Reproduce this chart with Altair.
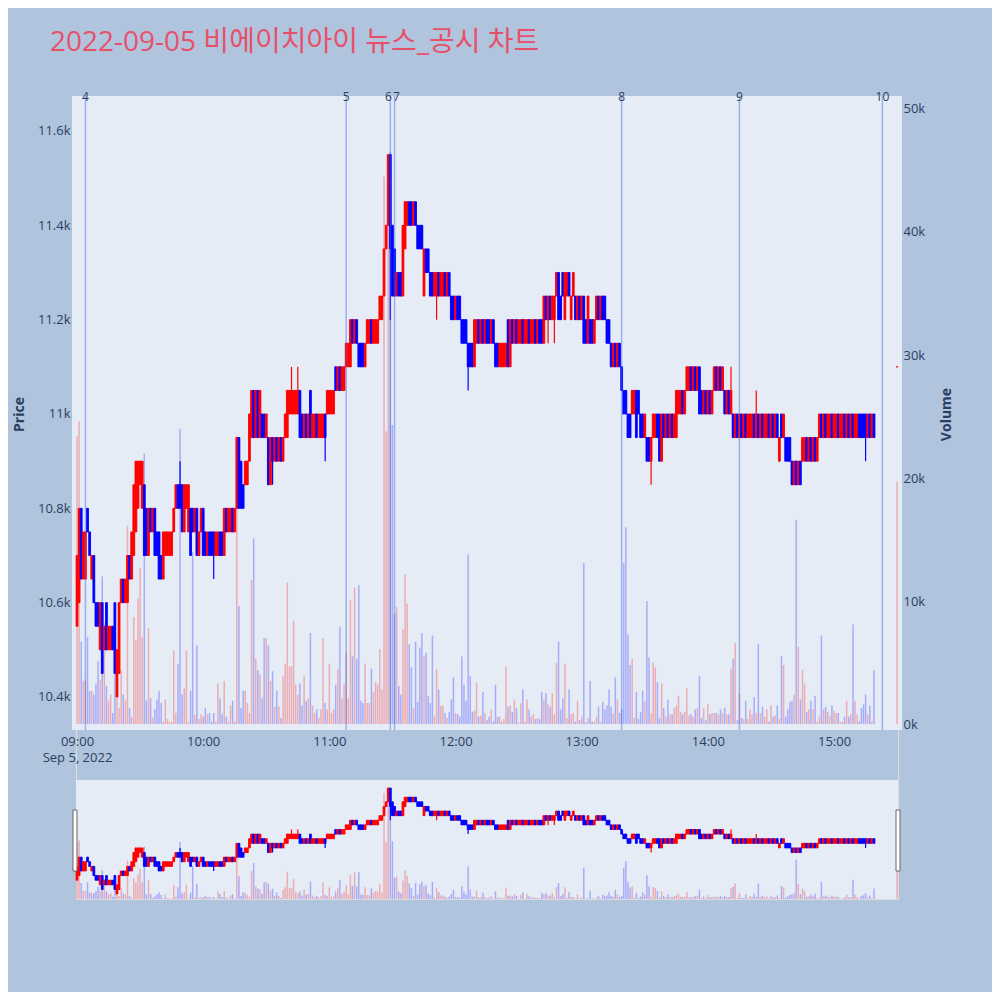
""" Minute candlestick chart of 비에이치아이 on 2022-09-05, with volume and news markers """

import numpy as np
import pandas as pd
import altair as alt

FONT = "Open Sans, Noto Sans CJK KR, sans-serif"
TEXT_COLOR = "#2a3f5f"
PLOT_BG = "#E5ECF6"

title_text = "2022-09-05 비에이치아이 뉴스_공시 차트"

# one candle per minute from 09:00 to 15:19
opens = [
    10550, 10600, 10800, 10650, 10650, 10800, 10750, 10650, 10700, 10600,
    10600, 10500, 10600, 10500, 10600, 10500, 10500, 10550, 10600, 10400,
    10450, 10600, 10650, 10600, 10600, 10700, 10650, 10700, 10750, 10800,
    10850, 10800, 10850, 10800, 10700, 10800, 10750, 10800, 10750, 10750,
    10700, 10650, 10700, 10700, 10700, 10700, 10750, 10800, 10850, 10850,
    10850, 10750, 10800, 10750, 10800, 10800, 10750, 10800, 10700, 10750,
    10800, 10750, 10700, 10750, 10750, 10750, 10700, 10700, 10750, 10750,
    10700, 10800, 10750, 10750, 10800, 10750, 10800, 10950, 10900, 10850,
    10850, 10850, 10900, 10950, 11050, 10950, 11050, 10950, 11000, 11000,
    10950, 10950, 10850, 10950, 10900, 10950, 10900, 10950, 10900, 10950,
    10950, 11000, 11000, 11000, 11000, 11000, 11050, 11000, 10950, 11000,
    10950, 11050, 10950, 10950, 11000, 10950, 10950, 10950, 11000, 11000,
    11000, 11000, 11000, 11100, 11050, 11100, 11050, 11050, 11100, 11100,
    11100, 11200, 11150, 11200, 11150, 11150, 11150, 11100, 11150, 11150,
    11200, 11150, 11150, 11150, 11200, 11200, 11250, 11350, 11400, 11550,
    11400, 11350, 11250, 11300, 11300, 11250, 11350, 11400, 11450, 11450,
    11400, 11450, 11400, 11400, 11400, 11250, 11350, 11350, 11300, 11300,
    11250, 11250, 11300, 11250, 11250, 11300, 11250, 11300, 11250, 11250,
    11200, 11250, 11250, 11200, 11200, 11200, 11150, 11150, 11150, 11100,
    11150, 11200, 11150, 11200, 11150, 11200, 11200, 11150, 11200, 11150,
    11150, 11100, 11100, 11100, 11100, 11200, 11100, 11200, 11150, 11200,
    11150, 11150, 11200, 11150, 11150, 11200, 11150, 11150, 11200, 11150,
    11200, 11200, 11150, 11250, 11200, 11250, 11200, 11200, 11250, 11300,
    11250, 11300, 11200, 11250, 11300, 11200, 11250, 11250, 11200, 11250,
    11200, 11250, 11200, 11150, 11200, 11200, 11150, 11200, 11250, 11200,
    11250, 11250, 11200, 11200, 11150, 11100, 11150, 11100, 11150, 11100,
    11050, 11050, 11000, 11000, 11000, 11000, 11050, 11050, 11000, 11000,
    10950, 10950, 10950, 10900, 10950, 10950, 11000, 11000, 10900, 11000,
    10950, 11000, 10950, 11000, 10950, 10950, 11000, 11000, 11050, 11000,
    11050, 11050, 11100, 11050, 11100, 11050, 11100, 11050, 11000, 11050,
    11000, 11050, 11000, 11050, 11100, 11050, 11100, 11050, 11050, 11000,
    11050, 11000, 11000, 10950, 11000, 10950, 11000, 10950, 11000, 10950,
    10950, 10950, 11000, 10950, 11000, 10950, 11000, 10950, 10950, 11000,
    10950, 11000, 10950, 11000, 10900, 11000, 10950, 10950, 10950, 10950,
    10900, 10850, 10900, 10850, 10900, 10900, 10900, 10950, 10900, 10950,
    10900, 10950, 10900, 10950, 11000, 10950, 11000, 10950, 10950, 11000,
    10950, 10950, 11000, 10950, 10950, 11000, 10950, 11000, 10950, 11000,
    10950, 10950, 11000, 11000, 11000, 11000, 10950, 11000, 10950, 11000,
]
closes = [
    10700, 10800, 10650, 10750, 10750, 10750, 10700, 10700, 10600, 10550,
    10550, 10600, 10450, 10550, 10500, 10550, 10550, 10500, 10450, 10500,
    10600, 10650, 10600, 10650, 10700, 10650, 10750, 10850, 10900, 10900,
    10900, 10900, 10700, 10700, 10800, 10750, 10800, 10700, 10700, 10650,
    10650, 10750, 10750, 10750, 10750, 10750, 10800, 10850, 10800, 10800,
    10750, 10850, 10850, 10850, 10700, 10750, 10800, 10700, 10750, 10800,
    10700, 10700, 10750, 10700, 10700, 10700, 10750, 10750, 10700, 10700,
    10800, 10750, 10800, 10800, 10750, 10800, 10950, 10800, 10800, 10800,
    10900, 10900, 11000, 11050, 10950, 11050, 10950, 11050, 10950, 10950,
    11000, 10850, 10950, 10900, 10950, 10900, 10950, 10900, 10950, 11000,
    11050, 11050, 11050, 11050, 11050, 11050, 10950, 10950, 11000, 10950,
    11000, 10950, 11000, 11000, 10950, 11000, 11000, 11000, 10950, 11050,
    11050, 11050, 11050, 11050, 11100, 11050, 11100, 11100, 11150, 11150,
    11200, 11150, 11200, 11150, 11100, 11100, 11100, 11150, 11200, 11200,
    11150, 11200, 11200, 11200, 11250, 11250, 11350, 11400, 11550, 11350,
    11250, 11250, 11300, 11250, 11250, 11400, 11450, 11450, 11400, 11400,
    11450, 11400, 11350, 11350, 11350, 11350, 11300, 11300, 11250, 11250,
    11300, 11300, 11250, 11300, 11300, 11250, 11300, 11250, 11200, 11200,
    11250, 11200, 11200, 11150, 11150, 11150, 11100, 11100, 11100, 11200,
    11200, 11150, 11200, 11150, 11200, 11150, 11150, 11200, 11150, 11100,
    11100, 11150, 11150, 11150, 11150, 11100, 11200, 11150, 11200, 11150,
    11200, 11200, 11150, 11200, 11200, 11150, 11200, 11200, 11150, 11200,
    11150, 11150, 11250, 11200, 11250, 11200, 11250, 11250, 11300, 11200,
    11200, 11250, 11300, 11300, 11250, 11250, 11300, 11200, 11250, 11200,
    11250, 11150, 11150, 11250, 11150, 11150, 11200, 11250, 11200, 11250,
    11200, 11200, 11150, 11150, 11100, 11150, 11100, 11150, 11100, 11050,
    11000, 11000, 10950, 10950, 11050, 11050, 10950, 11000, 10950, 10950,
    11000, 10900, 10900, 10950, 11000, 11000, 10950, 10900, 11000, 10950,
    11000, 10950, 11000, 10950, 11000, 11050, 11050, 11050, 11000, 11050,
    11100, 11100, 11050, 11100, 11050, 11100, 11000, 11000, 11050, 11000,
    11050, 11000, 11050, 11100, 11050, 11100, 11050, 11100, 11000, 11050,
    11000, 11050, 10950, 11000, 10950, 11000, 10950, 11000, 10950, 11000,
    11000, 11000, 10950, 11000, 10950, 11000, 10950, 11000, 11000, 10950,
    11000, 10950, 11000, 10950, 10950, 10950, 11000, 10900, 10900, 10900,
    10850, 10900, 10850, 10900, 10850, 10950, 10950, 10900, 10950, 10900,
    10950, 10900, 10950, 11000, 10950, 11000, 10950, 11000, 11000, 10950,
    11000, 11000, 10950, 11000, 11000, 10950, 11000, 10950, 11000, 10950,
    11000, 11000, 10950, 10950, 10950, 10950, 11000, 10950, 11000, 10950,
]
# traded volume per minute, thousands of shares
volume_k = [
    23.4, 24.6, 6.7, 3.5, 3.6, 7.1, 2.7, 2.7, 2.4, 3.3,
    5.1, 3.6, 12.0, 8.2, 3.1, 1.9, 2.4, 0.9, 5.1, 3.1,
    1.3, 4.4, 2.4, 1.9, 16.1, 1.3, 0.6, 8.7, 6.8, 10.2,
    12.7, 7.1, 22.0, 1.9, 7.8, 2.1, 0.5, 1.2, 2.0, 2.7,
    1.7, 0.2, 2.0, 0.4, 0.2, 0.2, 6.0, 0.9, 4.9, 24.0,
    2.4, 2.9, 6.0, 0.2, 2.7, 14.0, 0.8, 6.4, 0.4, 0.8,
    0.6, 1.3, 0.8, 0.9, 0.2, 0.9, 0.2, 3.3, 2.1, 0.8,
    3.5, 0.6, 0.2, 1.5, 1.9, 0.2, 23.4, 9.6, 1.3, 2.7,
    2.7, 1.7, 0.9, 11.7, 15.1, 5.3, 4.4, 4.0, 2.1, 7.0,
    7.0, 6.4, 3.5, 4.3, 1.4, 2.7, 1.4, 0.5, 3.9, 4.9,
    11.5, 4.7, 4.7, 8.4, 3.2, 2.4, 3.3, 1.5, 3.9, 1.9,
    2.1, 7.4, 1.5, 0.9, 1.2, 0.5, 1.2, 7.0, 1.7, 1.2,
    4.9, 0.9, 1.2, 3.2, 4.5, 7.9, 2.1, 3.2, 5.8, 2.1,
    10.1, 5.5, 11.1, 5.3, 11.3, 1.9, 1.7, 4.9, 1.7, 1.7,
    4.5, 2.6, 3.4, 3.2, 6.1, 2.8, 44.5, 23.8, 46.0, 46.5,
    24.3, 9.0, 9.5, 3.1, 2.4, 7.7, 12.2, 9.8, 6.5, 4.6,
    1.3, 6.7, 1.8, 6.2, 7.4, 5.5, 5.8, 2.3, 1.7, 7.2,
    0.7, 4.5, 2.8, 1.5, 1.5, 0.9, 0.5, 1.0, 2.0, 3.8,
    0.9, 0.8, 0.6, 5.5, 3.2, 1.9, 13.8, 3.9, 1.0, 1.1,
    3.4, 0.6, 0.7, 2.6, 0.9, 0.3, 0.6, 1.2, 0.2, 3.2,
    0.6, 0.6, 0.2, 0.4, 4.7, 1.4, 1.5, 1.0, 2.0, 1.3,
    0.1, 1.7, 2.8, 0.2, 2.0, 1.2, 0.6, 0.8, 0.4, 0.5,
    0.4, 2.6, 2.0, 2.5, 1.6, 1.4, 2.5, 0.8, 5.0, 6.7,
    1.2, 2.1, 4.9, 0.5, 2.8, 0.8, 0.9, 0.2, 1.9, 0.3,
    0.6, 13.1, 0.1, 0.5, 3.5, 0.2, 0.2, 0.6, 1.4, 0.2,
    1.8, 1.2, 1.5, 2.8, 1.4, 0.9, 3.8, 2.0, 0.9, 1.2,
    13.1, 16.0, 7.3, 4.8, 5.3, 0.5, 2.6, 0.4, 1.0, 2.7,
    1.9, 10.0, 5.4, 0.9, 5.0, 4.6, 3.4, 0.5, 3.3, 1.3,
    0.6, 2.0, 0.8, 0.8, 1.3, 1.5, 2.3, 1.0, 0.8, 1.0,
    2.9, 0.7, 0.8, 0.6, 1.2, 1.3, 3.9, 0.5, 1.3, 0.3,
    1.6, 0.8, 0.9, 0.9, 0.9, 0.8, 1.2, 0.9, 1.3, 0.8,
    0.8, 4.5, 5.3, 6.6, 0.3, 2.5, 0.5, 0.4, 1.9, 0.4,
    1.2, 0.8, 2.2, 0.9, 6.5, 0.9, 1.4, 0.6, 1.2, 0.2,
    1.5, 0.6, 0.7, 1.5, 0.4, 5.5, 4.8, 0.6, 1.2, 1.8,
    1.9, 2.4, 16.6, 6.3, 2.0, 4.4, 3.3, 1.0, 1.2, 1.9,
    1.2, 2.3, 0.2, 0.6, 7.2, 1.2, 1.4, 1.0, 0.7, 1.5,
    1.1, 0.9, 0.9, 0.2, 0.2, 0.6, 1.9, 0.6, 0.8, 8.1,
    1.9, 0.8, 0.2, 1.3, 1.6, 2.4, 0.8, 1.5, 0.2, 4.4,
]
# wicks reaching past the candle body, by minute index
wick_high = {49: 10900, 102: 11100, 105: 11100, 311: 11100, 323: 11050}
wick_low = {12: 10450, 19: 10400, 65: 10650, 93: 10850, 118: 10900, 149: 11200,
            171: 11200, 186: 11050, 224: 11150, 227: 11150, 273: 10850, 375: 10900}

# closing auction print at 15:30
auction_time = "2022-09-05 15:30"
auction_price = 11100
auction_volume_k = 19.7

news_labels = ["4", "5", "6", "7", "8", "9", "10"]
news_times = ["09:04", "11:08", "11:29", "11:31", "13:19", "14:15", "15:23"]

# ---- build the table ----
times = list(pd.date_range("2022-09-05 09:00", periods=len(opens), freq="min"))
times.append(pd.Timestamp(auction_time))
candles = pd.DataFrame(
    {
        "time": times,
        "open": opens + [auction_price],
        "close": closes + [auction_price],
        "volume": [v * 1000 for v in volume_k + [auction_volume_k]],
    }
)
candles["high"] = candles[["open", "close"]].max(axis=1)
candles["low"] = candles[["open", "close"]].min(axis=1)
for i, p in wick_high.items():
    candles.loc[i, "high"] = p
for i, p in wick_low.items():
    candles.loc[i, "low"] = p
candles["dir"] = np.where(candles["close"] >= candles["open"], "up", "down")

news = pd.DataFrame(
    {"label": news_labels, "time": pd.to_datetime(["2022-09-05 " + t for t in news_times])}
)
one_row = pd.DataFrame({"k": [0]})

# ---- scales and shared encodings ----
W, H = 822, 799
x_domain = [
    alt.DateTime(year=2022, month=9, date=5, hours=8, minutes=59, seconds=31),
    alt.DateTime(year=2022, month=9, date=5, hours=15, minutes=30, seconds=25),
]
hour_ticks = [alt.DateTime(year=2022, month=9, date=5, hours=h) for h in range(9, 16)]
x_enc = alt.X(
    "time:T",
    scale=alt.Scale(domain=x_domain, padding=0),
    axis=alt.Axis(
        values=hour_ticks,
        labelExpr="datum.index == 0 ? [timeFormat(datum.value, '%H:%M'), 'Sep 5, 2022'] "
        ": timeFormat(datum.value, '%H:%M')",
        grid=False,
        domain=False,
        ticks=False,
        offset=-173,
        labelPadding=9,
        labelFontSize=13,
        labelLineHeight=16,
        labelColor=TEXT_COLOR,
        labelFont=FONT,
        title=None,
    ),
)
color_scale = alt.Scale(domain=["up", "down"], range=["#FF0000", "#0000FF"])
color_enc = alt.Color("dir:N", scale=color_scale, legend=None)
stroke_enc = alt.Stroke("dir:N", scale=color_scale, legend=None)

price_scale = alt.Scale(domain=[10338.5, 11665.7], range=[626, 0], zero=False, nice=False)
volume_scale = alt.Scale(domain=[-160, 50730], range=[626, 0], zero=False, nice=False)
mini_price_scale = alt.Scale(domain=[10346, 11637], range=[799, 680], zero=False, nice=False)
mini_volume_scale = alt.Scale(domain=[0, 50000], range=[799, 680], nice=False)

price_axis = alt.Axis(
    orient="left",
    values=list(range(10400, 11601, 200)),
    format="~s",
    gridColor="white",
    gridWidth=1,
    domain=False,
    ticks=False,
    labelPadding=6,
    labelFontSize=13,
    labelColor=TEXT_COLOR,
    labelFont=FONT,
    title="Price",
    titleFont=FONT,
    titleFontSize=14,
    titleFontWeight="bold",
    titleColor=TEXT_COLOR,
    titleX=-57,
    titleY=314,
    titleAlign="center",
    titleBaseline="middle",
)
volume_axis = alt.Axis(
    orient="right",
    values=list(range(0, 50001, 10000)),
    format="~s",
    gridColor="#7a7a7a",
    gridWidth=1.2,
    domain=False,
    ticks=False,
    labelPadding=5,
    labelFontSize=13,
    labelColor=TEXT_COLOR,
    labelFont=FONT,
    title="Volume",
    titleFont=FONT,
    titleFontSize=14,
    titleFontWeight="bold",
    titleColor=TEXT_COLOR,
    titleAngle=270,
    titleX=48,
    titleY=314,
    titleAlign="center",
    titleBaseline="middle",
)

base = alt.Chart(candles)

# ---- backgrounds ----
main_bg = alt.Chart(one_row).mark_rect(color=PLOT_BG).encode(
    x=alt.value(-4), x2=alt.value(826), y=alt.value(-4), y2=alt.value(630)
)
slider_bg = alt.Chart(one_row).mark_rect(color=PLOT_BG).encode(
    x=alt.value(0), x2=alt.value(W), y=alt.value(680), y2=alt.value(799)
)

# ---- main panel ----
volume_bars = base.mark_bar(size=1.5, opacity=0.27).encode(
    x=x_enc,
    y=alt.Y("volume:Q", scale=volume_scale, axis=volume_axis, stack=None),
    color=color_enc,
)
wicks = base.mark_rule(strokeWidth=1.2).encode(
    x=x_enc,
    y=alt.Y("low:Q", scale=price_scale, axis=price_axis),
    y2="high:Q",
    color=color_enc,
)
bodies = base.mark_bar(size=1.8, strokeWidth=0.9).encode(
    x=x_enc,
    y=alt.Y("open:Q", scale=price_scale, axis=price_axis),
    y2="close:Q",
    color=color_enc,
    stroke=stroke_enc,
)
price_layer = alt.layer(wicks, bodies)

news_lines = alt.Chart(news).mark_rule(color="royalblue", opacity=0.45, strokeWidth=1.5).encode(
    x=x_enc, y=alt.value(-4), y2=alt.value(630)
)


def news_text(labels, dx):
    """Marker numbers above the news lines; 6 and 7 sit close, so they are nudged apart."""
    return (
        alt.Chart(news)
        .transform_filter(alt.FieldOneOfPredicate(field="label", oneOf=labels))
        .mark_text(fontSize=12, color=TEXT_COLOR, font=FONT, baseline="middle", dx=dx)
        .encode(x=x_enc, y=alt.value(-3), text="label:N")
    )


news_text_main = news_text(["4", "5", "8", "9", "10"], 0)
news_text_six = news_text(["6"], -2)
news_text_seven = news_text(["7"], 2)

title_mark = alt.Chart(one_row).mark_text(
    text=title_text,
    fontSize=28,
    color="#E8506A",
    font=FONT,
    align="left",
    baseline="middle",
).encode(x=alt.value(-26), y=alt.value(-57))

# ---- range slider ----
mini_volume = base.mark_bar(size=1.5, opacity=0.27).encode(
    x=x_enc,
    y=alt.Y("volume:Q", scale=mini_volume_scale, axis=None, stack=None),
    color=color_enc,
)
mini_wicks = base.mark_rule(strokeWidth=1.2).encode(
    x=x_enc,
    y=alt.Y("low:Q", scale=mini_price_scale, axis=None),
    y2="high:Q",
    color=color_enc,
)
mini_bodies = base.mark_bar(size=1.8, strokeWidth=0.9).encode(
    x=x_enc,
    y=alt.Y("open:Q", scale=mini_price_scale, axis=None),
    y2="close:Q",
    color=color_enc,
    stroke=stroke_enc,
)
mini_price = alt.layer(mini_wicks, mini_bodies)
handle_left = alt.Chart(one_row).mark_rect(fill="white", stroke="#666666", strokeWidth=1).encode(
    x=alt.value(-3), x2=alt.value(1), y=alt.value(710), y2=alt.value(771)
)
handle_right = alt.Chart(one_row).mark_rect(fill="white", stroke="#666666", strokeWidth=1).encode(
    x=alt.value(W - 2), x2=alt.value(W + 2), y=alt.value(710), y2=alt.value(771)
)

chart = (
    alt.layer(
        main_bg,
        slider_bg,
        volume_bars,
        price_layer,
        news_lines,
        news_text_main,
        news_text_six,
        news_text_seven,
        mini_volume,
        mini_price,
        handle_left,
        handle_right,
        title_mark,
    )
    .resolve_scale(y="independent")
    .properties(
        width=W,
        height=H,
        background="#B0C4DE",
        padding={"left": 68, "top": 92, "right": 94, "bottom": 93},
        autosize=alt.AutoSizeParams(type="none"),
    )
    .configure_view(strokeOpacity=0)
    .configure(font=FONT)
)

chart.save("out.html", embed_options={"renderer": "svg", "actions": False})
